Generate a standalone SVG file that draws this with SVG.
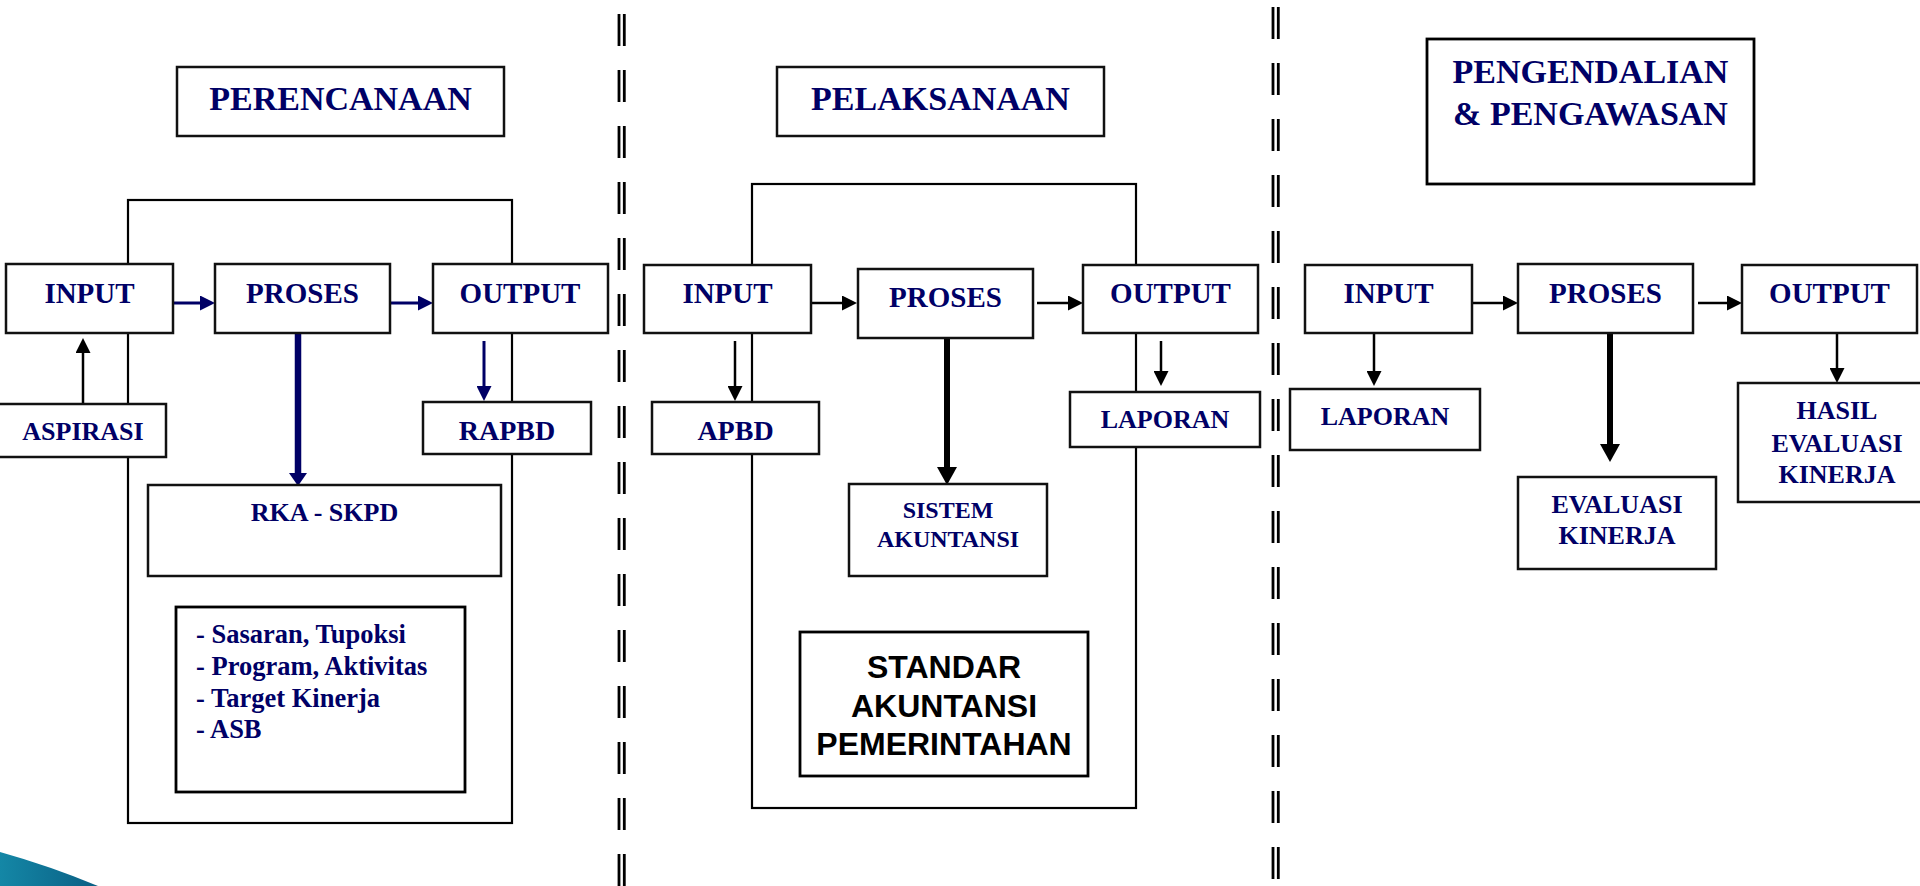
<svg xmlns="http://www.w3.org/2000/svg" width="1920" height="886" viewBox="0 0 1920 886">
<defs>
<style>
.box{fill:#fff;stroke:#111;stroke-width:2.5}
.frame{fill:none;stroke:#000;stroke-width:2.2}
.t{font-family:"Liberation Serif","Times New Roman",serif;font-weight:bold;fill:#000066;text-anchor:middle}
.h{font-size:34px}
.m{font-size:29px}
.s{font-size:26px}
.sa{font-family:"Liberation Sans",Arial,sans-serif;font-weight:bold;font-size:32px;fill:#000;text-anchor:middle}
.an{stroke:#000066;stroke-width:3;fill:none}
.ab{stroke:#000;stroke-width:2.5;fill:none}
.div{stroke:#000;stroke-width:2.8;stroke-dasharray:32 24}
</style>
<marker id="hn" markerUnits="userSpaceOnUse" markerWidth="15" markerHeight="15" refX="0" refY="7.5" orient="auto"><path d="M0,0 L15,7.5 L0,15 z" fill="#000066"/></marker>
<marker id="hb" markerUnits="userSpaceOnUse" markerWidth="15" markerHeight="15" refX="0" refY="7.5" orient="auto"><path d="M0,0 L15,7.5 L0,15 z" fill="#000"/></marker>
<marker id="hnt" markerUnits="userSpaceOnUse" markerWidth="13" markerHeight="18" refX="0" refY="9" orient="auto"><path d="M0,0 L13,9 L0,18 z" fill="#000066"/></marker>
<marker id="hbt" markerUnits="userSpaceOnUse" markerWidth="18" markerHeight="20" refX="0" refY="10" orient="auto"><path d="M0,0 L18,10 L0,20 z" fill="#000"/></marker>
<linearGradient id="teal" x1="0" y1="0" x2="1" y2="0"><stop offset="0" stop-color="#1487a6"/><stop offset="1" stop-color="#0a5f84"/></linearGradient>
</defs>
<rect width="1920" height="886" fill="#fff"/>
<path d="M0,852 Q50,866 98,886 L0,886 z" fill="url(#teal)"/>
<g id="dividers">
<line class="div" x1="619" y1="14" x2="619" y2="886"/>
<line class="div" x1="624.3" y1="14" x2="624.3" y2="886"/>
<line class="div" x1="1273" y1="7" x2="1273" y2="886"/>
<line class="div" x1="1278.3" y1="7" x2="1278.3" y2="886"/>
</g>
<g id="connectors">
<rect class="frame" x="128" y="200" width="384" height="623"/>
<rect class="frame" x="752" y="184" width="384" height="624"/>
<line class="an" x1="173" y1="303" x2="200" y2="303" marker-end="url(#hn)"/>
<line class="an" x1="390" y1="303" x2="418" y2="303" marker-end="url(#hn)"/>
<line class="ab" x1="83" y1="403" x2="83" y2="353" marker-end="url(#hb)"/>
<line class="an" x1="484" y1="341" x2="484" y2="386" marker-end="url(#hn)"/>
<line stroke="#000066" stroke-width="6.5" x1="298" y1="333" x2="298" y2="473" marker-end="url(#hnt)"/>
<line class="ab" x1="811" y1="303" x2="842" y2="303" marker-end="url(#hb)"/>
<line class="ab" x1="1037" y1="303" x2="1068" y2="303" marker-end="url(#hb)"/>
<line class="ab" x1="735" y1="341" x2="735" y2="386" marker-end="url(#hb)"/>
<line class="ab" x1="1161" y1="341" x2="1161" y2="371" marker-end="url(#hb)"/>
<line stroke="#000" stroke-width="6" x1="947" y1="338" x2="947" y2="467" marker-end="url(#hbt)"/>
<line class="ab" x1="1472" y1="303" x2="1503" y2="303" marker-end="url(#hb)"/>
<line class="ab" x1="1698" y1="303" x2="1727" y2="303" marker-end="url(#hb)"/>
<line class="ab" x1="1374" y1="333" x2="1374" y2="371" marker-end="url(#hb)"/>
<line class="ab" x1="1837" y1="333" x2="1837" y2="368" marker-end="url(#hb)"/>
<line stroke="#000" stroke-width="6" x1="1610" y1="333" x2="1610" y2="444" marker-end="url(#hbt)"/>
</g>
<g id="perencanaan"><rect class="box" x="177" y="67" width="327" height="69"/><text class="t h" x="340.5" y="110">PERENCANAAN</text></g>
<g id="input1"><rect class="box" x="6" y="264" width="167" height="69"/><text class="t m" x="89.5" y="303">INPUT</text></g>
<g id="proses1"><rect class="box" x="215" y="264" width="175" height="69"/><text class="t m" x="302.5" y="303">PROSES</text></g>
<g id="output1"><rect class="box" x="433" y="264" width="175" height="69"/><text class="t m" x="520" y="303">OUTPUT</text></g>
<g id="aspirasi"><rect class="box" x="-2" y="404" width="168" height="53"/><text class="t s" x="83" y="440">ASPIRASI</text></g>
<g id="rapbd"><rect class="box" x="423" y="402" width="168" height="52"/><text class="t" style="font-size:28px" x="507" y="440">RAPBD</text></g>
<g id="rkaskpd"><rect class="box" x="148" y="485" width="353" height="91"/><text class="t s" x="324.5" y="521">RKA - SKPD</text></g>
<g id="rkalist"><rect class="box" x="176" y="607" width="289" height="185" style="stroke-width:2.8;stroke:#000"/>
<text class="t" style="font-size:26.5px;text-anchor:start" x="196" y="643">- Sasaran, Tupoksi</text>
<text class="t" style="font-size:26.5px;text-anchor:start" x="196" y="675">- Program, Aktivitas</text>
<text class="t" style="font-size:26.5px;text-anchor:start" x="196" y="707">- Target Kinerja</text>
<text class="t" style="font-size:26.5px;text-anchor:start" x="196" y="738">- ASB</text></g>
<g id="pelaksanaan"><rect class="box" x="777" y="67" width="327" height="69"/><text class="t h" x="940.5" y="110">PELAKSANAAN</text></g>
<g id="input2"><rect class="box" x="644" y="265" width="167" height="68"/><text class="t m" x="727.5" y="303">INPUT</text></g>
<g id="proses2"><rect class="box" x="858" y="269" width="175" height="69"/><text class="t m" x="945.5" y="307">PROSES</text></g>
<g id="output2"><rect class="box" x="1083" y="265" width="175" height="68"/><text class="t m" x="1170.5" y="303">OUTPUT</text></g>
<g id="apbd"><rect class="box" x="652" y="402" width="167" height="52"/><text class="t" style="font-size:28px" x="735.5" y="440">APBD</text></g>
<g id="laporan2"><rect class="box" x="1070" y="392" width="190" height="55"/><text class="t s" x="1165" y="428">LAPORAN</text></g>
<g id="sistem"><rect class="box" x="849" y="484" width="198" height="92"/><text class="t" style="font-size:24px" x="948" y="518">SISTEM</text><text class="t" style="font-size:24px" x="948" y="547">AKUNTANSI</text></g>
<g id="sap"><rect class="box" x="800" y="632" width="288" height="144" style="stroke-width:2.8;stroke:#000"/><text class="sa" x="944" y="678">STANDAR</text><text class="sa" x="944" y="717">AKUNTANSI</text><text class="sa" x="944" y="755">PEMERINTAHAN</text></g>
<g id="pengendalian"><rect class="box" x="1427" y="39" width="327" height="145" style="stroke-width:2.8;stroke:#000"/><text class="t h" x="1590.5" y="83">PENGENDALIAN</text><text class="t h" x="1590.5" y="125">&amp; PENGAWASAN</text></g>
<g id="input3"><rect class="box" x="1305" y="265" width="167" height="68"/><text class="t m" x="1388.5" y="303">INPUT</text></g>
<g id="proses3"><rect class="box" x="1518" y="264" width="175" height="69"/><text class="t m" x="1605.5" y="303">PROSES</text></g>
<g id="output3"><rect class="box" x="1742" y="265" width="175" height="68"/><text class="t m" x="1829.5" y="303">OUTPUT</text></g>
<g id="laporan3"><rect class="box" x="1290" y="389" width="190" height="61"/><text class="t s" x="1385" y="425">LAPORAN</text></g>
<g id="evaluasi"><rect class="box" x="1518" y="477" width="198" height="92"/><text class="t s" x="1617" y="513">EVALUASI</text><text class="t s" x="1617" y="544">KINERJA</text></g>
<g id="hasil"><rect class="box" x="1738" y="383" width="190" height="119"/><text class="t s" x="1837" y="419">HASIL</text><text class="t s" x="1837" y="452">EVALUASI</text><text class="t s" x="1837" y="483">KINERJA</text></g>
</svg>
